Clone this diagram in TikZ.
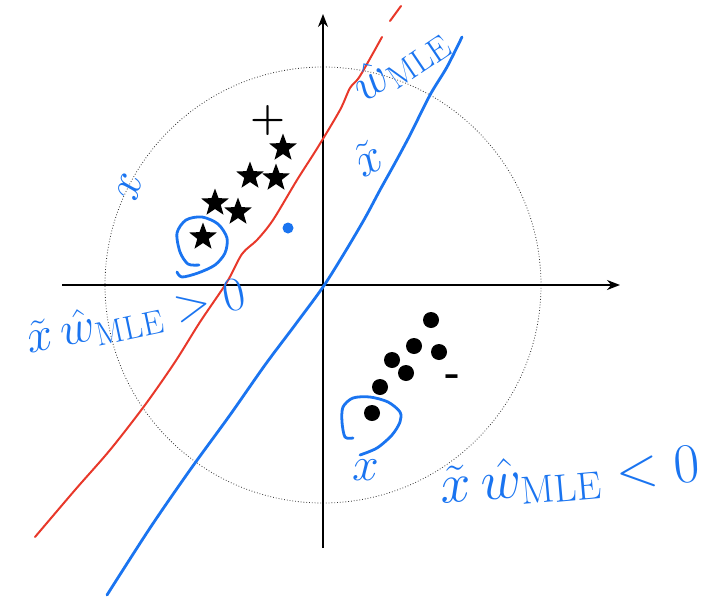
\documentclass[tikz,border=0pt]{standalone}
\usepackage{fix-cm}
\usepackage{tikz}
\usetikzlibrary{shapes.geometric,arrows.meta,positioning,calc}
\definecolor{penBlue}{HTML}{1A74F0}
\definecolor{penRed}{HTML}{E8382A}

\begin{document}
\begin{tikzpicture}[
            x=1pt, y=-1pt,
            axis/.style={-{Stealth[length=13pt,width=10pt]}, line width=1.6pt},
            ring/.style={dotted, line width=0.8pt, black!80},
            posmark/.style={
                    star, star points=5, star point ratio=2.4,
                    fill=black, minimum size=29pt, inner sep=0pt
                },
            negmark/.style={circle, fill=black, minimum size=16pt, inner sep=0pt},
            redline/.style={penRed, line width=2pt, line cap=round},
            ink/.style={penBlue, line width=2.8pt, line cap=round, line join=round},
            hand/.style={text=penBlue, inner sep=0pt, font=\fontsize{48}{52}\selectfont}
        ]
        \useasboundingbox (0,0) rectangle (717,597);

        % axes and unit circle
        \coordinate (o) at (323,285);
        \coordinate (xl) at (62,285);
        \coordinate (xr) at (620,285);
        \coordinate (yb) at (323,548);
        \coordinate (yt) at (323,14);
        \draw[ring] (o) circle[radius=218];
        \draw[axis] (xl) -- (xr);
        \draw[axis] (yb) -- (yt);

        % boundaries
        \draw[redline] plot[smooth, tension=0.5] coordinates {(35,537) (75,490) (110,450) (145,405) (175,362) (200,322) (227,282) (242,254) (257,240) (273,220) (297,180) (318,147) (340,110) (350,88) (360,76) (382,37)};
        \coordinate (r1) at (390,21);
        \coordinate (r2) at (401,6);
        \draw[redline] (r1) -- (r2);
        \draw[ink] plot[smooth, tension=0.5] coordinates {(107,595) (150,528) (190,470) (230,415) (265,365) (295,325) (323,287) (345,252) (365,218) (380,190) (395,163) (410,135) (430,95) (447,67) (462,37)};

        % positive class
        \node[posmark] (s1) at (283,148) {};
        \node[posmark] (s2) at (250,176) {};
        \node[posmark] (s3) at (276,178) {};
        \node[posmark] (s4) at (215,203) {};
        \node[posmark] (s5) at (238,212) {};
        \node[posmark] (s6) at (203,237) {};
        \node[font=\fontsize{40}{40}\selectfont\bfseries, inner sep=0pt] (plus) at (268,121) {+};

        % negative class
        \node[negmark] (d1) at (431,320) {};
        \node[negmark] (d2) at (414,346) {};
        \node[negmark] (d3) at (439,352) {};
        \node[negmark] (d4) at (392,360) {};
        \node[negmark] (d5) at (406,373) {};
        \node[negmark] (d6) at (380,387) {};
        \node[negmark] (d7) at (372,413) {};
        \node[font=\fontsize{40}{40}\selectfont\bfseries, inner sep=0pt] (minus) at (453,380) {-};

        % circled points
        \draw[ink] plot[smooth] coordinates {(199,265) (188,264) (180,252) (177,233) (186,220) (202,217) (218,224) (227,238) (225,253) (215,265) (198,273) (182,277) (177,272)};
        \draw[ink] plot[smooth] coordinates {(353,438) (345,437) (342,422) (343,407) (353,398) (370,397) (388,402) (400,412) (400,422) (392,435) (377,448) (360,455)};
        \node[circle, fill=penBlue, minimum size=11pt, inner sep=0pt] (dot) at (288,228) {};

        % labels
        \node[hand, rotate=34] (wtop) at (400,64) {$\hat{w}_{\mathrm{MLE}}$};
        \node[hand, rotate=28] (xtop) at (368,158) {$\tilde{x}$};
        \node[hand, rotate=12] (wleft) at (136,318) {$\tilde{x}\,\hat{w}_{\mathrm{MLE}} > 0$};
        \node[hand, rotate=5, font=\fontsize{56}{60}\selectfont] (wright) at (570,477) {$\tilde{x}\,\hat{w}_{\mathrm{MLE}} < 0$};
        \node[hand, rotate=75] (xa) at (130,187) {$x$};
        \node[hand] (xb) at (366,470) {$x$};
    \end{tikzpicture}
\end{document}
